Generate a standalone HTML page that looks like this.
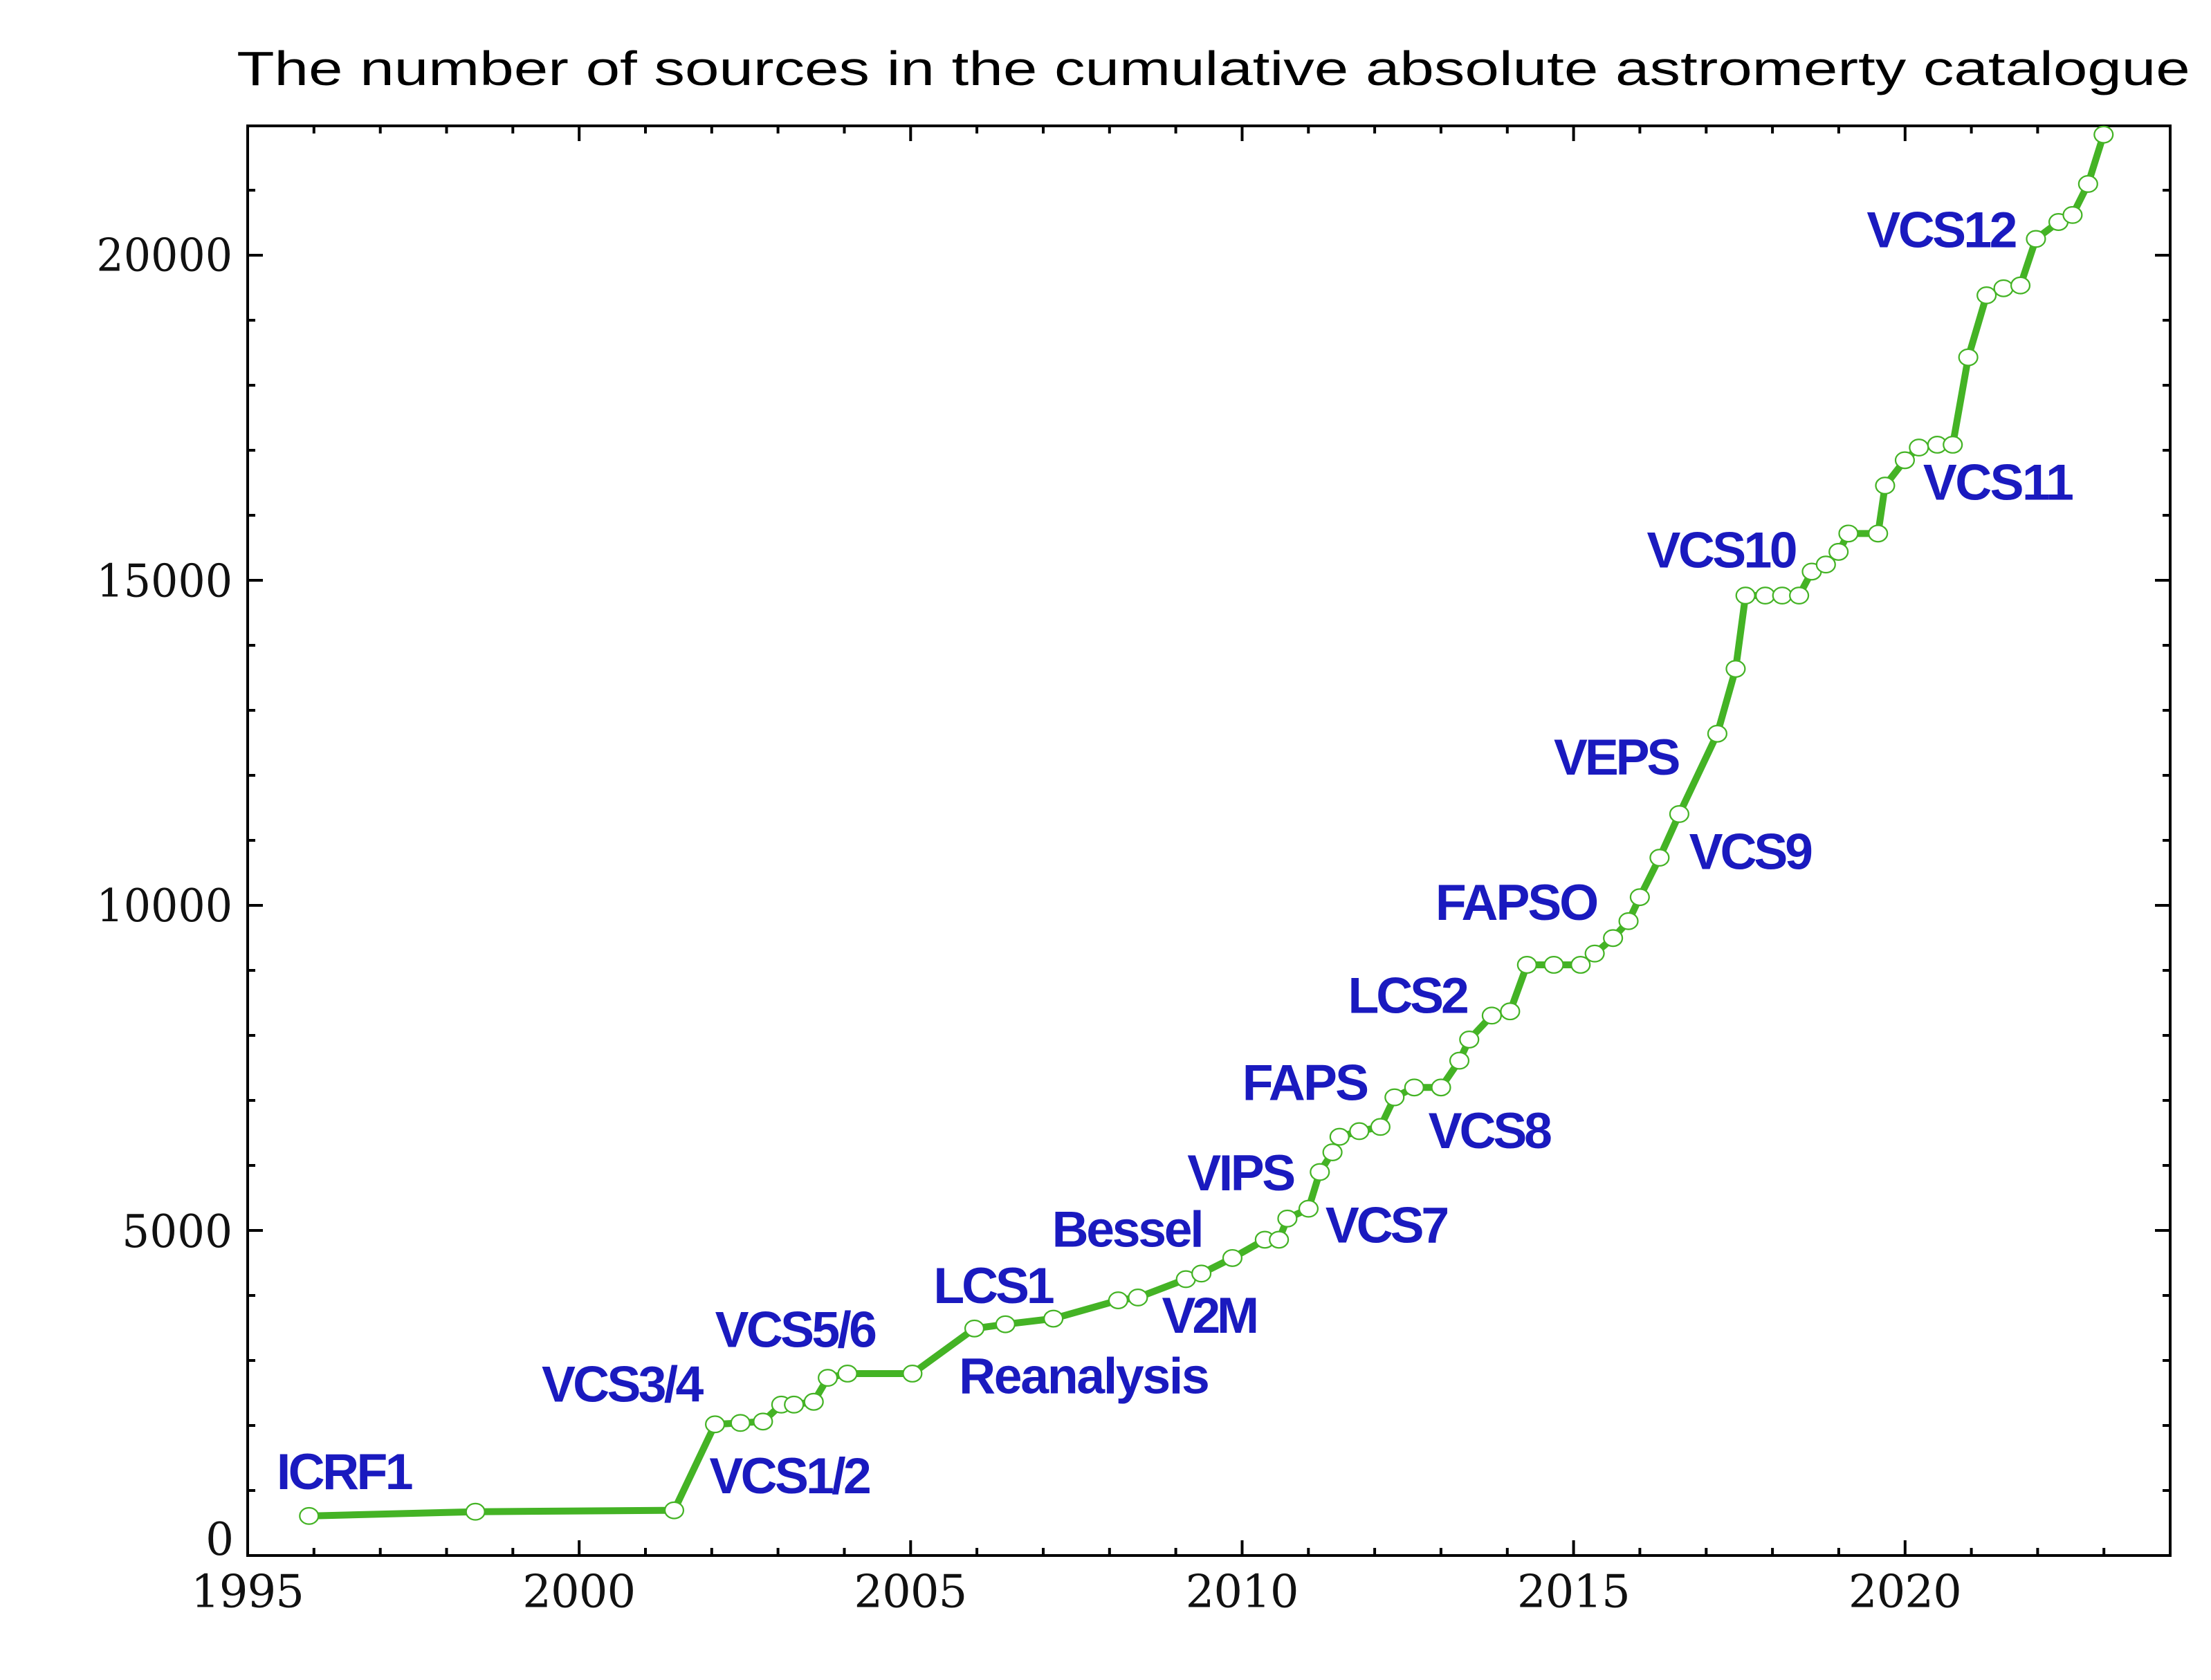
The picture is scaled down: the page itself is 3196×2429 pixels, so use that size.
<!DOCTYPE html>
<html><head><meta charset="utf-8"><style>html,body{margin:0;padding:0;background:#fff}svg{display:block}</style></head>
<body>
<svg width="3196" height="2429" viewBox="0 0 3196 2429" xmlns="http://www.w3.org/2000/svg">
<rect width="3196" height="2429" fill="#fff"/>
<g stroke="#000" stroke-width="4" fill="none">
<rect x="358" y="182" width="2779" height="2067"/>
<path d="M453.8 2249v-11M549.7 2249v-11M645.5 2249v-11M741.3 2249v-11M837.2 2249v-22M933 2249v-11M1028.8 2249v-11M1124.6 2249v-11M1220.5 2249v-11M1316.3 2249v-22M1412.1 2249v-11M1508 2249v-11M1603.8 2249v-11M1699.6 2249v-11M1795.5 2249v-22M1891.3 2249v-11M1987.1 2249v-11M2082.9 2249v-11M2178.8 2249v-11M2274.6 2249v-22M2370.4 2249v-11M2466.3 2249v-11M2562.1 2249v-11M2657.9 2249v-11M2753.8 2249v-22M2849.6 2249v-11M2945.4 2249v-11M3041.2 2249v-11"/>
<g transform="translate(0,2431) scale(1,-1)"><path d="M453.8 2249v-11M549.7 2249v-11M645.5 2249v-11M741.3 2249v-11M837.2 2249v-22M933 2249v-11M1028.8 2249v-11M1124.6 2249v-11M1220.5 2249v-11M1316.3 2249v-22M1412.1 2249v-11M1508 2249v-11M1603.8 2249v-11M1699.6 2249v-11M1795.5 2249v-22M1891.3 2249v-11M1987.1 2249v-11M2082.9 2249v-11M2178.8 2249v-11M2274.6 2249v-22M2370.4 2249v-11M2466.3 2249v-11M2562.1 2249v-11M2657.9 2249v-11M2753.8 2249v-22M2849.6 2249v-11M2945.4 2249v-11M3041.2 2249v-11"/></g>
<path d="M358 2155h11M358 2061h11M358 1967h11M358 1873h11M358 1779h22M358 1685h11M358 1591h11M358 1497h11M358 1403h11M358 1309h22M358 1215h11M358 1121h11M358 1027h11M358 933h11M358 839h22M358 745h11M358 651h11M358 557h11M358 463h11M358 369h22M358 275h11"/>
<g transform="translate(3495,0) scale(-1,1)"><path d="M358 2155h11M358 2061h11M358 1967h11M358 1873h11M358 1779h22M358 1685h11M358 1591h11M358 1497h11M358 1403h11M358 1309h22M358 1215h11M358 1121h11M358 1027h11M358 933h11M358 839h22M358 745h11M358 651h11M358 557h11M358 463h11M358 369h22M358 275h11"/></g>
</g>
<g transform="translate(358,2249) scale(2.049) translate(-174.7,-1097.6)">
<text x="167" y="60" font-family="Liberation Sans, sans-serif" font-size="34" textLength="1378" lengthAdjust="spacingAndGlyphs">The number of sources in the cumulative absolute astromerty catalogue</text>
<g font-family="DejaVu Serif, serif" font-size="32" fill="#111" text-anchor="middle" lengthAdjust="spacingAndGlyphs">
<text x="174.7" y="1134" textLength="80">1995</text><text x="408.6" y="1134" textLength="80">2000</text><text x="642.4" y="1134" textLength="80">2005</text><text x="876.3" y="1134" textLength="80">2010</text><text x="1110.2" y="1134" textLength="80">2015</text><text x="1344" y="1134" textLength="80">2020</text>
</g>
<g font-family="DejaVu Serif, serif" font-size="32" fill="#111" text-anchor="end">
<text x="165" y="1097" textLength="20" lengthAdjust="spacingAndGlyphs">0</text>
<text x="164" y="880" textLength="78" lengthAdjust="spacingAndGlyphs">5000</text>
<text x="164" y="650" textLength="96" lengthAdjust="spacingAndGlyphs">10000</text>
<text x="164" y="421" textLength="96" lengthAdjust="spacingAndGlyphs">15000</text>
<text x="164" y="191" textLength="96" lengthAdjust="spacingAndGlyphs">20000</text>
</g>
<g transform="matrix(0.9945,0,0,0.9946,1.2,0.5)">
<polyline fill="none" stroke="#44b325" stroke-width="4.9" stroke-linejoin="round" points="218,1075 336,1072 477,1071 506,1010 524,1009 540,1008 553,996 562,996 576,994 586,977 600,974 646,974 690,942 712,939 746,935 792,922 806,920 840,907 851,903 873,892 896,879 906,879 912,864 927,857 935,831 944,817 949,806 963,802 978,799 988,778 1002,771 1021,771 1034,752 1041,737 1057,720 1070,717 1082,684 1101,684 1120,684 1130,676 1143,665 1154,653 1162,636 1176,608 1190,577 1217,520 1230,474 1237,422 1251,422 1263,422 1275,422 1284,405 1294,400 1303,391 1310,378 1331,378 1336,344 1350,326 1360,317 1373,315 1384,315 1395,253 1408,209 1420,204 1432,202 1443,169 1459,157 1469,152 1480,130 1491,95"/>
<g fill="#fff" stroke="#44b325" stroke-width="1.1">
<ellipse cx="218" cy="1075" rx="6.6" ry="5.8"/><ellipse cx="336" cy="1072" rx="6.6" ry="5.8"/><ellipse cx="477" cy="1071" rx="6.6" ry="5.8"/><ellipse cx="506" cy="1010" rx="6.6" ry="5.8"/><ellipse cx="524" cy="1009" rx="6.6" ry="5.8"/><ellipse cx="540" cy="1008" rx="6.6" ry="5.8"/><ellipse cx="553" cy="996" rx="6.6" ry="5.8"/><ellipse cx="562" cy="996" rx="6.6" ry="5.8"/><ellipse cx="576" cy="994" rx="6.6" ry="5.8"/><ellipse cx="586" cy="977" rx="6.6" ry="5.8"/><ellipse cx="600" cy="974" rx="6.6" ry="5.8"/><ellipse cx="646" cy="974" rx="6.6" ry="5.8"/><ellipse cx="690" cy="942" rx="6.6" ry="5.8"/><ellipse cx="712" cy="939" rx="6.6" ry="5.8"/><ellipse cx="746" cy="935" rx="6.6" ry="5.8"/><ellipse cx="792" cy="922" rx="6.6" ry="5.8"/><ellipse cx="806" cy="920" rx="6.6" ry="5.8"/><ellipse cx="840" cy="907" rx="6.6" ry="5.8"/><ellipse cx="851" cy="903" rx="6.6" ry="5.8"/><ellipse cx="873" cy="892" rx="6.6" ry="5.8"/><ellipse cx="896" cy="879" rx="6.6" ry="5.8"/><ellipse cx="906" cy="879" rx="6.6" ry="5.8"/><ellipse cx="912" cy="864" rx="6.6" ry="5.8"/><ellipse cx="927" cy="857" rx="6.6" ry="5.8"/><ellipse cx="935" cy="831" rx="6.6" ry="5.8"/><ellipse cx="944" cy="817" rx="6.6" ry="5.8"/><ellipse cx="949" cy="806" rx="6.6" ry="5.8"/><ellipse cx="963" cy="802" rx="6.6" ry="5.8"/><ellipse cx="978" cy="799" rx="6.6" ry="5.8"/><ellipse cx="988" cy="778" rx="6.6" ry="5.8"/><ellipse cx="1002" cy="771" rx="6.6" ry="5.8"/><ellipse cx="1021" cy="771" rx="6.6" ry="5.8"/><ellipse cx="1034" cy="752" rx="6.6" ry="5.8"/><ellipse cx="1041" cy="737" rx="6.6" ry="5.8"/><ellipse cx="1057" cy="720" rx="6.6" ry="5.8"/><ellipse cx="1070" cy="717" rx="6.6" ry="5.8"/><ellipse cx="1082" cy="684" rx="6.6" ry="5.8"/><ellipse cx="1101" cy="684" rx="6.6" ry="5.8"/><ellipse cx="1120" cy="684" rx="6.6" ry="5.8"/><ellipse cx="1130" cy="676" rx="6.6" ry="5.8"/><ellipse cx="1143" cy="665" rx="6.6" ry="5.8"/><ellipse cx="1154" cy="653" rx="6.6" ry="5.8"/><ellipse cx="1162" cy="636" rx="6.6" ry="5.8"/><ellipse cx="1176" cy="608" rx="6.6" ry="5.8"/><ellipse cx="1190" cy="577" rx="6.6" ry="5.8"/><ellipse cx="1217" cy="520" rx="6.6" ry="5.8"/><ellipse cx="1230" cy="474" rx="6.6" ry="5.8"/><ellipse cx="1237" cy="422" rx="6.6" ry="5.8"/><ellipse cx="1251" cy="422" rx="6.6" ry="5.8"/><ellipse cx="1263" cy="422" rx="6.6" ry="5.8"/><ellipse cx="1275" cy="422" rx="6.6" ry="5.8"/><ellipse cx="1284" cy="405" rx="6.6" ry="5.8"/><ellipse cx="1294" cy="400" rx="6.6" ry="5.8"/><ellipse cx="1303" cy="391" rx="6.6" ry="5.8"/><ellipse cx="1310" cy="378" rx="6.6" ry="5.8"/><ellipse cx="1331" cy="378" rx="6.6" ry="5.8"/><ellipse cx="1336" cy="344" rx="6.6" ry="5.8"/><ellipse cx="1350" cy="326" rx="6.6" ry="5.8"/><ellipse cx="1360" cy="317" rx="6.6" ry="5.8"/><ellipse cx="1373" cy="315" rx="6.6" ry="5.8"/><ellipse cx="1384" cy="315" rx="6.6" ry="5.8"/><ellipse cx="1395" cy="253" rx="6.6" ry="5.8"/><ellipse cx="1408" cy="209" rx="6.6" ry="5.8"/><ellipse cx="1420" cy="204" rx="6.6" ry="5.8"/><ellipse cx="1432" cy="202" rx="6.6" ry="5.8"/><ellipse cx="1443" cy="169" rx="6.6" ry="5.8"/><ellipse cx="1459" cy="157" rx="6.6" ry="5.8"/><ellipse cx="1469" cy="152" rx="6.6" ry="5.8"/><ellipse cx="1480" cy="130" rx="6.6" ry="5.8"/><ellipse cx="1491" cy="95" rx="6.6" ry="5.8"/>
</g>
<g font-family="Liberation Sans, sans-serif" font-weight="bold" font-size="36" fill="#1a1abf" lengthAdjust="spacingAndGlyphs">
<text x="195" y="1056" textLength="97">ICRF1</text>
<text x="383" y="994" textLength="115">VCS3/4</text>
<text x="502" y="1059" textLength="115">VCS1/2</text>
<text x="506" y="955" textLength="115">VCS5/6</text>
<text x="661" y="924" textLength="86">LCS1</text>
<text x="679" y="988" textLength="178">Reanalysis</text>
<text x="745" y="884" textLength="108">Bessel</text>
<text x="823" y="945" textLength="69">V2M</text>
<text x="841" y="844" textLength="77">VIPS</text>
<text x="939" y="881" textLength="88">VCS7</text>
<text x="880" y="780" textLength="90">FAPS</text>
<text x="1012" y="814" textLength="88">VCS8</text>
<text x="955" y="718" textLength="86">LCS2</text>
<text x="1017" y="652" textLength="116">FAPSO</text>
<text x="1101" y="549" textLength="90">VEPS</text>
<text x="1197" y="616" textLength="88">VCS9</text>
<text x="1167" y="402" textLength="107">VCS10</text>
<text x="1363" y="354" textLength="107">VCS11</text>
<text x="1323" y="175" textLength="107">VCS12</text>
</g>
</g>
</g>
</svg>
</body></html>
